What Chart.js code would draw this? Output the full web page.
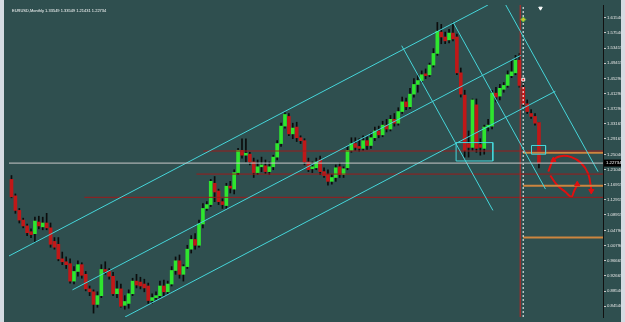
<!DOCTYPE html>
<html>
<head>
<meta charset="utf-8">
<title>EURUSD Monthly</title>
<script src="https://cdn.jsdelivr.net/npm/chart.js@4.4.1/dist/chart.umd.min.js"></script>
<style>
  html, body { margin: 0; padding: 0; width: 625px; height: 322px; overflow: hidden; background: #d5dbe2; }
  #box { position: absolute; left: 4px; top: 0; width: 617px; height: 322px; background: #2f4f4f; }
</style>
</head>
<body>
<div id="box"><canvas id="chart"></canvas></div>
<script>
// Monthly candles, oldest first
const opens = [
  1.1839, 1.1400, 1.1012, 1.0754, 1.0598, 1.0443, 1.0392, 1.0702, 1.0573, 1.0676,
  1.0547, 1.0185, 1.0108, 0.9720, 0.9642, 0.9591, 0.9126, 0.9384, 0.9565, 0.9307,
  0.8919, 0.8841, 0.8505, 0.8738, 0.9436, 0.9384, 0.9255, 0.8790, 0.8919, 0.8480,
  0.8531, 0.8790, 0.9126, 0.9100, 0.9048, 0.8996, 0.8609, 0.8686, 0.8738, 0.8996,
  0.8841, 0.9048, 0.9410, 0.9668, 0.9307, 0.9513, 0.9978, 1.0237, 1.0082, 1.0650,
  1.1064, 1.1167, 1.1735, 1.1529, 1.1245, 1.1141, 1.1658, 1.1580, 1.2020, 1.2614,
  1.2485, 1.2511, 1.2304, 1.2020, 1.2175, 1.2201, 1.2046, 1.2175, 1.2433, 1.2795,
  1.3260, 1.3518, 1.3053, 1.3234, 1.2950, 1.2872, 1.2304, 1.2123, 1.2149, 1.2356,
  1.2046, 1.1968, 1.1787, 1.1890, 1.2175, 1.1968, 1.2149, 1.2614, 1.2795, 1.2717,
  1.2666, 1.2872, 1.2743, 1.2950, 1.3131, 1.3027, 1.3286, 1.3182, 1.3441, 1.3338,
  1.3648, 1.3906, 1.3777, 1.4113, 1.4371, 1.4475, 1.4655, 1.4630, 1.4888, 1.5198,
  1.5766, 1.5637, 1.5560, 1.5741, 1.5637, 1.4681, 1.4087, 1.2795, 1.2692, 1.3828,
  1.2769, 1.2666, 1.3234, 1.3260, 1.4139, 1.4061, 1.4242, 1.4345, 1.4604, 1.4681,
  1.5017, 1.4294, 1.3854, 1.3596, 1.3518, 1.33549
];
const highs = [
  1.1942, 1.1451, 1.1064, 1.0805, 1.0650, 1.0521, 1.0831, 1.0857, 1.0831, 1.0934,
  1.0676, 1.0288, 1.0288, 0.9901, 0.9772, 0.9720, 0.9513, 0.9668, 0.9616, 0.9384,
  0.8996, 0.8893, 0.8841, 0.9565, 0.9642, 0.9462, 0.9358, 0.9126, 0.9048, 0.8738,
  0.8893, 0.9203, 0.9307, 0.9229, 0.9177, 0.9074, 0.8790, 0.8841, 0.9126, 0.9151,
  0.9126, 0.9513, 0.9772, 0.9823, 0.9565, 1.0082, 1.0340, 1.0392, 1.0754, 1.1193,
  1.1245, 1.1839, 1.1916, 1.1580, 1.1322, 1.1735, 1.1787, 1.2097, 1.2666, 1.2924,
  1.2924, 1.2562, 1.2407, 1.2356, 1.2433, 1.2356, 1.2304, 1.2485, 1.2872, 1.3338,
  1.3622, 1.3596, 1.3338, 1.3363, 1.3002, 1.2924, 1.2407, 1.2304, 1.2407, 1.2459,
  1.2149, 1.2097, 1.1968, 1.2226, 1.2278, 1.2175, 1.2717, 1.2950, 1.2950, 1.2924,
  1.3002, 1.2976, 1.3079, 1.3234, 1.3260, 1.3389, 1.3441, 1.3544, 1.3596, 1.3751,
  1.4035, 1.4009, 1.4268, 1.4526, 1.4630, 1.4733, 1.4785, 1.4940, 1.5327, 1.6025,
  1.5973, 1.5766, 1.5844, 1.6025, 1.5715, 1.4810, 1.4216, 1.3131, 1.3984, 1.3984,
  1.2924, 1.3286, 1.3441, 1.4216, 1.4294, 1.4371, 1.4423, 1.4733, 1.5017, 1.5146,
  1.5198, 1.4423, 1.3958, 1.3699, 1.3596, 1.33549
];
const lows = [
  1.1348, 1.0934, 1.0676, 1.0547, 1.0340, 1.0288, 1.0159, 1.0521, 1.0495, 1.0495,
  1.0030, 0.9978, 0.9668, 0.9565, 0.9462, 0.9074, 0.9048, 0.9255, 0.9203, 0.8867,
  0.8738, 0.8273, 0.8428, 0.8686, 0.9307, 0.9177, 0.8738, 0.8686, 0.8428, 0.8376,
  0.8402, 0.8738, 0.8945, 0.8919, 0.8841, 0.8531, 0.8531, 0.8635, 0.8686, 0.8738,
  0.8790, 0.8996, 0.9307, 0.9203, 0.9126, 0.9462, 0.9875, 0.9978, 1.0030, 1.0547,
  1.1012, 1.1115, 1.1245, 1.1167, 1.1064, 1.1064, 1.1477, 1.1451, 1.1968, 1.2407,
  1.2304, 1.2226, 1.1890, 1.1968, 1.2046, 1.1994, 1.1968, 1.2097, 1.2356, 1.2717,
  1.3208, 1.3002, 1.2924, 1.2847, 1.2795, 1.2226, 1.2046, 1.2020, 1.2097, 1.1968,
  1.1890, 1.1684, 1.1710, 1.1787, 1.1890, 1.1890, 1.2097, 1.2562, 1.2614, 1.2588,
  1.2614, 1.2640, 1.2666, 1.2872, 1.2950, 1.2976, 1.3105, 1.3131, 1.3260, 1.3286,
  1.3596, 1.3699, 1.3725, 1.4035, 1.4164, 1.4423, 1.4526, 1.4578, 1.4836, 1.5146,
  1.5456, 1.5456, 1.5482, 1.5534, 1.4630, 1.4035, 1.2433, 1.2433, 1.2614, 1.2562,
  1.2485, 1.2511, 1.3131, 1.3182, 1.3906, 1.3958, 1.4164, 1.4294, 1.4552, 1.4630,
  1.4294, 1.3803, 1.3596, 1.3467, 1.3286, 1.21431
];
const closes = [
  1.1374, 1.1012, 1.0754, 1.0598, 1.0418, 1.0366, 1.0728, 1.0598, 1.0676, 1.0547,
  1.0108, 1.0030, 0.9720, 0.9642, 0.9565, 0.9126, 0.9384, 0.9565, 0.9281, 0.8919,
  0.8841, 0.8505, 0.8738, 0.9436, 0.9384, 0.9255, 0.8790, 0.8919, 0.8454, 0.8583,
  0.8790, 0.9126, 0.9022, 0.8996, 0.8945, 0.8609, 0.8686, 0.8738, 0.8996, 0.8841,
  0.9048, 0.9410, 0.9668, 0.9307, 0.9513, 0.9978, 1.0237, 1.0082, 1.0650, 1.1064,
  1.1167, 1.1787, 1.1503, 1.1245, 1.1167, 1.1658, 1.1606, 1.2020, 1.2614, 1.2485,
  1.2536, 1.2304, 1.2020, 1.2175, 1.2226, 1.2046, 1.2175, 1.2433, 1.2795, 1.3260,
  1.3570, 1.3053, 1.3208, 1.2950, 1.2872, 1.2304, 1.2097, 1.2175, 1.2304, 1.2046,
  1.1942, 1.1787, 1.1890, 1.2149, 1.1968, 1.2123, 1.2614, 1.2795, 1.2692, 1.2666,
  1.2872, 1.2743, 1.2950, 1.3131, 1.3027, 1.3286, 1.3182, 1.3441, 1.3338, 1.3648,
  1.3906, 1.3777, 1.4113, 1.4371, 1.4475, 1.4630, 1.4604, 1.4888, 1.5198, 1.5792,
  1.5637, 1.5534, 1.5741, 1.5586, 1.4681, 1.4113, 1.2614, 1.2692, 1.3958, 1.2666,
  1.2692, 1.3234, 1.3286, 1.4139, 1.4035, 1.4268, 1.4345, 1.4630, 1.4707, 1.5017,
  1.4345, 1.3854, 1.3648, 1.3518, 1.3338, 1.22734
];

// price scale labels on the right
const priceTicks = [
  1.61540, 1.57540, 1.53415, 1.49415, 1.45290, 1.41290, 1.37290, 1.33165, 1.29165, 1.25040,
  1.21040, 1.16915, 1.12915, 1.08915, 1.04790, 1.00790, 0.96665, 0.92665, 0.88540, 0.84540
];
const headerText = 'EURUSD,Monthly 1.33549 1.33549 1.21431 1.22734';
const lastPrice = 1.22734;

// drawn objects: [bar index, price] anchors
const channelUpper = [[-0.63, 0.9797], [121.95, 1.6490]];
const channelMid = [[15.61, 0.8893], [130.33, 1.5146]];
const channelLow = [[29.06, 0.8169], [139.21, 1.4190]];
const crossLine1 = [[99.87, 1.5405], [123.22, 1.1012]];
const crossLine2 = [[113.07, 1.6025], [136.68, 1.1580]];
const crossLine3 = [[126.52, 1.6490], [150.13, 1.2046]];
const boxA = [[113.8, 1.2821], [123.2, 1.2821], [123.2, 1.2330], [113.8, 1.2330], [113.8, 1.2821]];
const boxB = [[133.1, 1.2743], [136.7, 1.2743], [136.7, 1.2511], [133.1, 1.2511], [133.1, 1.2743]];
const redLevels = [[49.11, 1.2596], [47.34, 1.1981], [18.65, 1.1361]];
const orangeLevels = [1.2549, 1.1671, 1.0288];
const arcPath = [[137.4, 1.2046], [138.7, 1.2356], [140.5, 1.2459], [143.3, 1.2433], [145.8, 1.2278], [147.6, 1.1994], [148.4, 1.1580]];
const swooshPath = [[137.9, 1.1942], [139.7, 1.1684], [141.8, 1.1503], [143.3, 1.1374], [144.0, 1.1529], [144.8, 1.1684]];
const arrowHeads = [[138.7, 1.2356], [148.4, 1.1530], [144.8, 1.1710]];
const iconMarks = [[131.0, 1.6102], [131.0, 1.4500], [135.4, 1.6405]];
const redVLine = 130.21;
const sepLine = 130.97;

const X_MIN = -0.635, X_MAX = 151.4;
const Y_MIN = 0.8169, Y_MAX = 1.6490;

const pts = arr => arr.map(([x, y]) => ({ x, y }));

function lineSet(points, color, width, dash) {
  return {
    type: 'line',
    data: pts(points),
    borderColor: color,
    borderWidth: width,
    borderDash: dash || [],
    pointRadius: 0,
    fill: false,
    tension: 0,
    order: 1,
    clip: 0
  };
}

const bullColor = '#2ee62e';
const bearColor = '#c01818';

const wickData = opens.map((o, i) => ({ x: i, y: [lows[i], highs[i]] }));
const bodyData = opens.map((o, i) => ({ x: i, y: [o, closes[i]] }));
const bodyColors = opens.map((o, i) => closes[i] >= o ? bullColor : bearColor);

const cyan = '#46d6da';
const datasets = [
  {
    type: 'bar', data: wickData, backgroundColor: '#0c0c0c',
    barThickness: 1, grouped: false, order: 10
  },
  {
    type: 'bar', data: bodyData, backgroundColor: bodyColors,
    barThickness: 3, grouped: false, minBarLength: 1, order: 5
  },
  lineSet([[X_MIN, lastPrice], [X_MAX, lastPrice]], '#c8c8c8', 1),
  lineSet(channelUpper, cyan, 1),
  lineSet(channelMid, cyan, 1),
  lineSet(channelLow, cyan, 1),
  lineSet(crossLine1, cyan, 1),
  lineSet(crossLine2, cyan, 1),
  lineSet(crossLine3, cyan, 1),
  lineSet(boxA, cyan, 1),
  lineSet(boxB, cyan, 1),
  lineSet([[redVLine, Y_MIN], [redVLine, Y_MAX]], '#c42424', 1),
  lineSet([[sepLine, Y_MIN], [sepLine, Y_MAX]], '#ffffff', 1, [2, 2])
];
redLevels.forEach(([start, p]) => datasets.push(lineSet([[start, p], [X_MAX, p]], '#9b1c1c', 1)));
orangeLevels.forEach(p => datasets.push(lineSet([[sepLine, p], [X_MAX, p]], '#cd853f', 2)));

const arc = lineSet(arcPath, '#e01010', 2);
arc.tension = 0.4;
const swoosh = lineSet(swooshPath, '#e01010', 2);
swoosh.tension = 0.4;
datasets.push(arc, swoosh);
datasets.push({
  type: 'line', data: pts(arrowHeads), showLine: false,
  pointStyle: 'triangle', pointRadius: 3, pointRotation: [0, 180, 0],
  pointBackgroundColor: '#e01010', pointBorderColor: '#e01010', order: 0
});
datasets.push({
  type: 'line', data: pts(iconMarks), showLine: false, clip: false,
  pointStyle: ['rectRot', 'rect', 'triangle'], pointRadius: [2.5, 2, 2], pointRotation: [0, 0, 180],
  pointBackgroundColor: ['#d0c030', '#e02828', '#ffffff'],
  pointBorderColor: ['#60c040', '#ffffff', '#ffffff'], pointBorderWidth: 1, order: 0
});

const overlay = {
  id: 'overlay',
  afterDraw(chart) {
    const { ctx, chartArea, scales } = chart;
    ctx.save();
    ctx.font = '4px "Liberation Sans", Arial, sans-serif';
    ctx.textBaseline = 'middle';
    ctx.fillStyle = '#ffffff';
    ctx.fillText(headerText, chartArea.left + 3, chartArea.top + 6);
    const py = scales.y.getPixelForValue(lastPrice);
    ctx.fillStyle = '#000000';
    ctx.fillRect(chartArea.right + 1, py - 3.5, 17, 7);
    ctx.fillStyle = '#ffffff';
    ctx.font = '4.3px "Liberation Sans", Arial, sans-serif';
    ctx.fillText(lastPrice.toFixed(5), chartArea.right + 3, py);
    ctx.restore();
  }
};

new Chart(document.getElementById('chart'), {
  type: 'bar',
  data: { datasets },
  plugins: [overlay],
  options: {
    responsive: true,
    maintainAspectRatio: false,
    devicePixelRatio: 1,
    animation: false,
    layout: { padding: 0 },
    plugins: { legend: { display: false }, tooltip: { enabled: false } },
    scales: {
      x: {
        type: 'linear', min: X_MIN, max: X_MAX, offset: false, display: false
      },
      y: {
        type: 'linear', position: 'right', min: Y_MIN, max: Y_MAX,
        afterBuildTicks: scale => { scale.ticks = priceTicks.map(v => ({ value: v })); },
        afterFit: scale => { scale.width = 18; scale.paddingTop = 0; scale.paddingBottom = 0; },
        ticks: {
          autoSkip: false, padding: 1, color: '#e6e6e6',
          font: { size: 4.3, family: '"Liberation Sans", Arial, sans-serif' },
          callback: v => Number(v).toFixed(5)
        },
        grid: { drawOnChartArea: false, tickLength: 3, color: '#c8c8c8' },
        border: { display: true, color: '#111111', width: 1 }
      }
    }
  }
});
</script>
</body>
</html>
